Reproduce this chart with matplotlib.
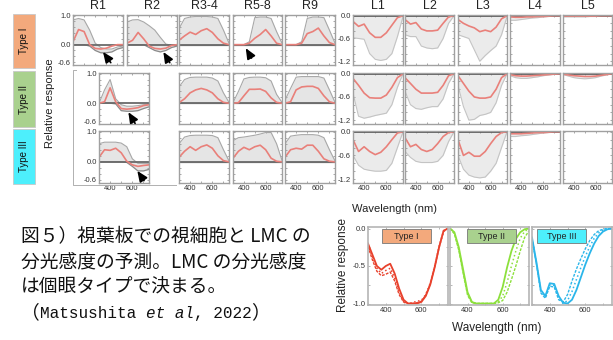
import numpy as np
import matplotlib
matplotlib.use("Agg")
import matplotlib.pyplot as plt
from matplotlib.patches import Rectangle
from matplotlib.lines import Line2D
from matplotlib.ticker import MultipleLocator

plt.rcParams['font.family'] = ['Liberation Sans', 'DejaVu Sans']
plt.rcParams['axes.unicode_minus'] = False

# ---- data: wavelength grid of the small panels ----
WL = [300, 350, 400, 450, 500, 550, 600, 650, 700, 750]
ZERO = [0.0] * len(WL)

R_COLS = ["R1", "R2", "R3-4", "R5-8", "R9"]
L_COLS = ["L1", "L2", "L3", "L4", "L5"]
TYPES = ["Type I", "Type II", "Type III"]
TYPE_COLORS = ["#F3A97C", "#A9D18E", "#4DEFFC"]

# photoreceptors (red = mean, hi/lo = envelope of grey family)
R1_I_RED = [0.10, 0.52, 0.45, 0.00, -0.13, -0.15, -0.12, -0.05, 0.00, 0.00]
R1_I_HI = [0.85, 0.90, 0.85, 0.50, 0.05, -0.10, -0.15, -0.15, -0.08, -0.05]
R1_I_LO = [0.00, 0.00, 0.00, -0.05, -0.20, -0.28, -0.28, -0.25, -0.15, -0.10]
R2_I_RED = [0.05, 0.15, 0.42, 0.20, -0.05, -0.13, -0.15, -0.12, -0.03, 0.00]
R2_I_HI = [0.78, 0.85, 0.86, 0.78, 0.65, 0.50, 0.25, 0.02, -0.02, 0.00]
R2_I_LO = [0.00, 0.00, 0.00, 0.00, -0.10, -0.20, -0.25, -0.20, -0.10, -0.05]
R34_I_RED = [0.15, 0.30, 0.43, 0.35, 0.48, 0.55, 0.42, 0.20, 0.05, 0.00]
R34_I_HI = [0.55, 0.90, 0.95, 0.97, 0.97, 0.97, 0.95, 0.90, 0.50, 0.05]
R58_I_RED = [0.00, 0.00, 0.00, 0.05, 0.22, 0.35, 0.52, 0.30, 0.05, 0.00]
R58_I_HI = [0.00, 0.00, 0.00, 0.10, 0.93, 0.95, 0.95, 0.90, 0.45, 0.05]
R9_I_RED = [0.00, 0.00, 0.00, 0.05, 0.38, 0.45, 0.57, 0.30, 0.07, 0.00]
R9_I_HI = [0.00, 0.00, 0.00, 0.10, 0.90, 0.95, 0.95, 0.93, 0.50, 0.05]

R1_II_RED = [0.00, 0.05, 0.52, 0.05, -0.18, -0.20, -0.18, -0.15, -0.08, -0.05]
R1_II_HI = [0.00, 0.45, 0.80, 0.15, -0.05, -0.10, -0.10, -0.08, -0.05, -0.03]
R1_II_LO = [0.00, 0.00, 0.00, -0.02, -0.25, -0.27, -0.27, -0.25, -0.18, -0.12]
R34_II_RED = [0.02, 0.15, 0.35, 0.45, 0.50, 0.45, 0.35, 0.15, 0.03, 0.00]
R34_II_HI = [0.55, 0.80, 0.87, 0.88, 0.88, 0.88, 0.85, 0.75, 0.35, 0.03]
R58_II_RED = [0.00, 0.02, 0.25, 0.47, 0.47, 0.48, 0.40, 0.18, 0.03, 0.00]
R58_II_HI = [0.02, 0.40, 0.82, 0.87, 0.88, 0.88, 0.86, 0.75, 0.30, 0.03]
R9_II_RED = [0.00, 0.05, 0.45, 0.55, 0.57, 0.57, 0.50, 0.25, 0.05, 0.00]
R9_II_HI = [0.10, 0.50, 0.88, 0.90, 0.90, 0.90, 0.90, 0.85, 0.45, 0.03]

R1_III_RED = [0.15, 0.40, 0.38, 0.45, 0.30, 0.02, -0.10, -0.15, -0.12, -0.10]
R1_III_HI = [0.60, 0.65, 0.65, 0.65, 0.62, 0.50, 0.10, -0.05, -0.05, -0.05]
R1_III_LO = [0.00, 0.00, 0.00, 0.00, 0.00, -0.02, -0.15, -0.30, -0.30, -0.25]
R34_III_RED = [0.15, 0.35, 0.50, 0.38, 0.50, 0.56, 0.45, 0.20, 0.04, 0.00]
R34_III_HI = [0.60, 0.82, 0.87, 0.88, 0.88, 0.88, 0.87, 0.80, 0.40, 0.03]
R58_III_RED = [0.12, 0.35, 0.48, 0.40, 0.50, 0.55, 0.40, 0.12, 0.02, 0.00]
R58_III_HI = [0.70, 0.80, 0.82, 0.85, 0.88, 0.92, 0.97, 0.97, 0.60, 0.05]
R9_III_RED = [0.15, 0.40, 0.45, 0.42, 0.55, 0.55, 0.35, 0.10, 0.02, 0.00]
R9_III_HI = [0.60, 0.85, 0.88, 0.90, 0.90, 0.90, 0.88, 0.80, 0.40, 0.03]

# LMCs (red = mean, lo = lower envelope, upper envelope is 0)
L1_I_RED = [-0.15, -0.28, -0.22, -0.45, -0.57, -0.57, -0.45, -0.25, -0.05, 0.00]
L1_I_LO = [-0.58, -0.60, -0.62, -1.00, -1.15, -1.18, -1.15, -1.00, -0.55, -0.02]
L2_I_RED = [-0.10, -0.22, -0.18, -0.35, -0.40, -0.40, -0.38, -0.20, -0.03, 0.00]
L2_I_LO = [-0.50, -0.55, -0.55, -0.80, -0.85, -0.87, -0.85, -0.60, -0.20, 0.00]
L3_I_RED = [-0.10, -0.20, -0.27, -0.32, -0.42, -0.38, -0.42, -0.30, -0.08, 0.00]
L3_I_LO = [-0.50, -0.55, -0.60, -0.90, -1.20, -1.05, -0.92, -0.80, -0.50, -0.02]
L4_I_RED = [-0.03, -0.04, -0.04, -0.03, -0.03, -0.02, -0.02, -0.01, 0.00, 0.00]
L4_I_LO = [-0.12, -0.12, -0.10, -0.08, -0.06, -0.05, -0.03, -0.02, -0.01, 0.00]
L5_I_RED = [-0.01, -0.01, -0.01, -0.01, -0.01, -0.01, -0.01, 0.00, 0.00, 0.00]
L5_I_LO = [-0.03, -0.03, -0.03, -0.03, -0.03, -0.02, -0.02, -0.01, -0.01, 0.00]

L1_II_RED = [-0.12, -0.30, -0.50, -0.62, -0.63, -0.63, -0.55, -0.35, -0.10, 0.00]
L1_II_LO = [-0.50, -1.10, -1.15, -1.12, -1.08, -1.05, -1.02, -0.80, -0.35, 0.00]
L2_II_RED = [-0.10, -0.25, -0.40, -0.50, -0.50, -0.50, -0.48, -0.30, -0.05, 0.00]
L2_II_LO = [-0.45, -0.80, -0.90, -0.92, -0.88, -0.85, -0.85, -0.65, -0.25, 0.00]
L3_II_RED = [-0.05, -0.25, -0.45, -0.60, -0.63, -0.63, -0.60, -0.40, -0.10, 0.00]
L3_II_LO = [-0.30, -0.85, -1.20, -1.18, -1.08, -1.05, -1.00, -0.75, -0.30, 0.00]
L4_II_RED = [-0.02, -0.05, -0.06, -0.06, -0.05, -0.04, -0.03, -0.02, -0.01, 0.00]
L4_II_LO = [-0.05, -0.10, -0.12, -0.12, -0.10, -0.08, -0.05, -0.03, -0.01, 0.00]
L5_II_RED = [-0.01, -0.03, -0.05, -0.06, -0.07, -0.07, -0.06, -0.04, -0.02, 0.00]
L5_II_LO = [-0.02, -0.06, -0.10, -0.12, -0.13, -0.12, -0.10, -0.06, -0.03, 0.00]

L1_III_RED = [-0.20, -0.50, -0.38, -0.50, -0.58, -0.52, -0.38, -0.20, -0.03, 0.00]
L1_III_LO = [-0.60, -0.85, -0.95, -0.98, -1.00, -1.00, -0.98, -0.80, -0.40, 0.00]
L2_III_RED = [-0.15, -0.38, -0.32, -0.45, -0.50, -0.45, -0.30, -0.12, -0.02, 0.00]
L2_III_LO = [-0.50, -0.65, -0.75, -0.78, -0.78, -0.78, -0.75, -0.60, -0.25, 0.00]
L3_III_RED = [-0.20, -0.60, -0.52, -0.62, -0.62, -0.50, -0.30, -0.12, -0.02, 0.00]
L3_III_LO = [-0.60, -0.95, -1.10, -1.15, -1.17, -1.15, -1.00, -0.80, -0.40, 0.00]
L4_III_RED = [-0.05, -0.05, -0.05, -0.04, -0.03, -0.02, -0.02, -0.01, 0.00, 0.00]
L4_III_LO = [-0.12, -0.12, -0.10, -0.09, -0.07, -0.05, -0.03, -0.02, -0.01, 0.00]

# bottom panels: LMC sensitivity per eye type
WL2 = [300, 325, 350, 375, 400, 425, 450, 475, 500, 525,
       550, 575, 600, 625, 650, 675, 700, 725, 750]
T1_A = [-0.20, -0.35, -0.50, -0.55, -0.50, -0.47, -0.60, -0.80, -0.95, -1.00,
        -1.00, -1.00, -0.98, -0.90, -0.75, -0.52, -0.25, -0.03, 0.00]
T1_B = [-0.22, -0.38, -0.53, -0.60, -0.56, -0.53, -0.66, -0.85, -0.97, -1.00,
        -0.99, -0.97, -0.96, -0.88, -0.73, -0.50, -0.24, -0.03, 0.00]
T1_C = [-0.24, -0.42, -0.57, -0.63, -0.61, -0.58, -0.70, -0.88, -0.98, -1.00,
        -1.00, -0.99, -0.97, -0.89, -0.74, -0.51, -0.25, -0.04, 0.00]
T2_A = [0.00, -0.05, -0.25, -0.55, -0.85, -0.98, -1.00, -1.00, -1.00, -1.00,
        -1.00, -0.95, -0.78, -0.52, -0.30, -0.14, -0.05, -0.01, 0.00]
T2_B = [0.00, -0.06, -0.27, -0.58, -0.87, -0.99, -1.00, -1.00, -1.00, -1.00,
        -1.00, -0.98, -0.90, -0.72, -0.50, -0.30, -0.13, -0.04, 0.00]
T2_C = [0.00, -0.07, -0.29, -0.60, -0.89, -0.99, -1.00, -1.00, -1.00, -1.00,
        -1.00, -0.99, -0.96, -0.85, -0.68, -0.50, -0.30, -0.12, -0.03]
T3_A = [-0.12, -0.45, -0.82, -0.90, -0.73, -0.74, -0.90, -0.99, -1.00, -0.95,
        -0.82, -0.65, -0.48, -0.33, -0.20, -0.10, -0.04, -0.01, 0.00]
T3_B = [-0.13, -0.47, -0.84, -0.91, -0.75, -0.76, -0.92, -1.00, -0.96, -0.84,
        -0.68, -0.52, -0.37, -0.24, -0.13, -0.06, -0.02, 0.00, 0.00]
T3_C = [-0.14, -0.48, -0.86, -0.93, -0.77, -0.78, -0.95, -0.98, -0.88, -0.70,
        -0.54, -0.40, -0.27, -0.16, -0.08, -0.03, -0.01, 0.00, 0.00]

CAPTION = ["図５）視葉板での視細胞と LMC の",
           "分光感度の予測。LMC の分光感度",
           "は個眼タイプで決まる。"]
# last caption line: (text, font, style)
CITATION = [("（", "Noto Sans CJK JP", "normal"),
            ("Matsushita ", "Liberation Mono", "normal"),
            ("et al", "Liberation Mono", "italic"),
            (", 2022", "Liberation Mono", "normal"),
            ("）", "Noto Sans CJK JP", "normal")]

# ---- layout (pixels of a 613x340 canvas) ----
W, H = 613, 340
fig = plt.figure(figsize=(W / 100, H / 100), dpi=100)


def px_axes(x0, y0, x1, y1):
    return fig.add_axes([x0 / W, 1 - y1 / H, (x1 - x0) / W, (y1 - y0) / H])


ROWS = [(15, 65), (73, 124), (131, 183)]
R_X = [(73, 123), (127, 177), (179, 229), (233, 282), (285, 335)]
R1_LOW_X = (99, 149)
L_X = [(353, 403), (405, 454), (458, 507), (510, 560), (563, 612)]
GRID_RED = "#e9807a"


def style(ax, ylim, yticks, ylabels, show_y, show_x):
    ax.set_xlim(300, 750)
    ax.set_ylim(*ylim)
    ax.set_xticks([400, 600])
    ax.xaxis.set_minor_locator(MultipleLocator(100))
    ax.set_yticks(yticks)
    ax.set_yticklabels(ylabels)
    ax.yaxis.set_minor_locator(MultipleLocator(0.2))
    ax.tick_params(which="both", direction="in", length=1.5, width=0.6,
                   color="#999999", top=True, right=True,
                   labelsize=5.5, labelcolor="#333333", pad=1.5,
                   labelleft=show_y, labelbottom=show_x)
    for s in ax.spines.values():
        s.set_color("#a0a0a0")
        s.set_linewidth(1.0)


def draw_r(ax, red, hi, lo):
    ax.fill_between(WL, lo, hi, color="#e5e5e5", lw=0)
    ax.plot(WL, hi, color="#a8a8a8", lw=0.8)
    ax.plot(WL, lo, color="#8a8a8a", lw=0.9)
    ax.axhline(0, color="#6a6a6a", lw=1.3)
    ax.plot(WL, red, color=GRID_RED, lw=1.2)


def draw_l(ax, red, lo):
    ax.fill_between(WL, lo, ZERO, color="#ebebeb", lw=0)
    ax.plot(WL, lo, color="#c4c4c4", lw=0.8)
    ax.plot(WL, ZERO, color="#555555", lw=1.3)
    ax.plot(WL, red, color=GRID_RED, lw=1.2)


R_PANELS = {
    (0, 0): (R1_I_RED, R1_I_HI, R1_I_LO),
    (0, 1): (R2_I_RED, R2_I_HI, R2_I_LO),
    (0, 2): (R34_I_RED, R34_I_HI, ZERO),
    (0, 3): (R58_I_RED, R58_I_HI, ZERO),
    (0, 4): (R9_I_RED, R9_I_HI, ZERO),
    (1, 0): (R1_II_RED, R1_II_HI, R1_II_LO),
    (1, 2): (R34_II_RED, R34_II_HI, ZERO),
    (1, 3): (R58_II_RED, R58_II_HI, ZERO),
    (1, 4): (R9_II_RED, R9_II_HI, ZERO),
    (2, 0): (R1_III_RED, R1_III_HI, R1_III_LO),
    (2, 2): (R34_III_RED, R34_III_HI, ZERO),
    (2, 3): (R58_III_RED, R58_III_HI, ZERO),
    (2, 4): (R9_III_RED, R9_III_HI, ZERO),
}
L_PANELS = {
    (0, 0): (L1_I_RED, L1_I_LO), (0, 1): (L2_I_RED, L2_I_LO),
    (0, 2): (L3_I_RED, L3_I_LO), (0, 3): (L4_I_RED, L4_I_LO),
    (0, 4): (L5_I_RED, L5_I_LO),
    (1, 0): (L1_II_RED, L1_II_LO), (1, 1): (L2_II_RED, L2_II_LO),
    (1, 2): (L3_II_RED, L3_II_LO), (1, 3): (L4_II_RED, L4_II_LO),
    (1, 4): (L5_II_RED, L5_II_LO),
    (2, 0): (L1_III_RED, L1_III_LO), (2, 1): (L2_III_RED, L2_III_LO),
    (2, 2): (L3_III_RED, L3_III_LO), (2, 3): (L4_III_RED, L4_III_LO),
    (2, 4): None,
}
# black arrowheads: (row, col, tip, tail) in data units
ARROWS = [(0, 0, (570, -0.25), (640, -0.62)),
          (0, 1, (627, -0.25), (685, -0.62)),
          (0, 3, (417, -0.12), (470, -0.46)),
          (1, 0, (564, -0.30), (625, -0.68)),
          (2, 0, (645, -0.30), (705, -0.62))]

r_axes = {}
for (row, col), (red, hi, lo) in R_PANELS.items():
    x0, x1 = R_X[col]
    if col == 0 and row > 0:
        x0, x1 = R1_LOW_X
    y0, y1 = ROWS[row]
    ax = px_axes(x0, y0, x1, y1)
    draw_r(ax, red, hi, lo)
    style(ax, (-0.7, 1.02), [1.0, 0.0, -0.6], ["1.0", "0.0", "-0.6"],
          show_y=(col == 0), show_x=(row == 2))
    r_axes[(row, col)] = ax

for row, col, tip, tail in ARROWS:
    r_axes[(row, col)].annotate(
        "", xy=tip, xytext=tail, annotation_clip=False,
        arrowprops=dict(arrowstyle="-|>,head_length=0.7,head_width=0.3",
                        mutation_scale=9, shrinkA=0, shrinkB=0,
                        fc="black", ec="black", lw=1.2))

for (row, col), vals in L_PANELS.items():
    x0, x1 = L_X[col]
    y0, y1 = ROWS[row]
    ax = px_axes(x0, y0, x1, y1)
    if vals is not None:
        draw_l(ax, *vals)
    style(ax, (-1.3, 0.02), [0.0, -0.6, -1.2], ["0.0", "-0.6", "-1.2"],
          show_y=(col == 0), show_x=(row == 2))

# column titles
for name, (x0, x1) in zip(R_COLS + L_COLS, R_X + L_X):
    fig.text((x0 + x1) / 2 / W, 1 - 6 / H, name, ha="center", va="center",
             fontsize=9, color="#222222")

# eye type labels on the left
for name, color, (y0, y1) in zip(TYPES, TYPE_COLORS,
                                 [(14, 68), (71, 127), (129, 184)]):
    fig.add_artist(Rectangle((13 / W, 1 - y1 / H), 22 / W, (y1 - y0) / H,
                             transform=fig.transFigure, fc=color,
                             ec="#c8c8c8", lw=0.6))
    fig.text(24 / W, 1 - (y0 + y1) / 2 / H, name, rotation=90, ha="center",
             va="center", fontsize=7, color="#111111")

fig.text(50 / W, 1 - 103 / H, "Relative response", rotation=90, ha="center",
         va="center", fontsize=8, color="#222222")
fig.text(395 / W, 1 - 209 / H, "Wavelength (nm)", ha="center", va="center",
         fontsize=8, color="#222222")

# thin frame around lower R1 panels
fig.add_artist(Line2D(np.array([76, 73, 73, 176]) / W,
                      1 - np.array([70, 70, 185, 185]) / H,
                      transform=fig.transFigure, color="#b0b0b0", lw=0.7))

# ---- bottom panels ----
BOT_X = [(368, 448), (450, 529), (532, 612)]
BOT_SERIES = [(T1_A, T1_B, T1_C), (T2_A, T2_B, T2_C), (T3_A, T3_B, T3_C)]
BOT_COLORS = ["#e8412c", "#8ce03c", "#2bb6ea"]
BOT_LABEL_X = [(382, 431), (467, 516), (537, 586)]
for i, ((x0, x1), series, color) in enumerate(zip(BOT_X, BOT_SERIES, BOT_COLORS)):
    ax = px_axes(x0, 227, x1, 305)
    a, b, c = series
    ax.plot(WL2, c, color=color, lw=1.0, ls=(0, (2, 1)))
    ax.plot(WL2, b, color=color, lw=1.1, ls=":")
    ax.plot(WL2, a, color=color, lw=1.3)
    ax.set_xlim(300, 750)
    ax.set_ylim(-1.02, 0.02)
    ax.set_xticks([400, 600])
    ax.xaxis.set_minor_locator(MultipleLocator(100))
    ax.set_yticks([0.0, -0.5, -1.0])
    ax.set_yticklabels(["0.0", "-0.5", "-1.0"])
    ax.yaxis.set_minor_locator(MultipleLocator(0.25))
    ax.tick_params(which="both", direction="in", length=1.5, width=0.6,
                   color="#aaaaaa", top=True, right=True, labelsize=5.5,
                   labelcolor="#333333", pad=1.5, labelleft=(i == 0))
    for s in ax.spines.values():
        s.set_color("#b5b5b5")
        s.set_linewidth(1.2)
    lx0, lx1 = BOT_LABEL_X[i]
    fx0, fx1 = (lx0 - x0) / (x1 - x0), (lx1 - x0) / (x1 - x0)
    fy0, fy1 = (305 - 243) / 78, (305 - 229) / 78
    ax.add_patch(Rectangle((fx0, fy0), fx1 - fx0, fy1 - fy0,
                           transform=ax.transAxes, fc=TYPE_COLORS[i],
                           ec="#777777", lw=0.6, zorder=5))
    ax.text((fx0 + fx1) / 2, (fy0 + fy1) / 2, TYPES[i], transform=ax.transAxes,
            ha="center", va="center", fontsize=6.5, color="#222222", zorder=6)

fig.text(343 / W, 1 - 265 / H, "Relative response", rotation=90, ha="center",
         va="center", fontsize=8.5, color="#222222")
fig.text(497 / W, 1 - 328 / H, "Wavelength (nm)", ha="center", va="center",
         fontsize=8.5, color="#222222")

# ---- caption ----
for k, line in enumerate(CAPTION):
    fig.text(21 / W, 1 - (237 + 25 * k) / H, line, ha="left", va="center",
             fontsize=13.5, family=["Noto Sans CJK JP"], color="#111111")

renderer = fig.canvas.get_renderer()
base4 = 1 - 318 / H
x = 21
for part, fam, st in CITATION:
    size = 13.5 if fam.startswith("Noto") else 11.5
    t = fig.text(x / W, base4, part, ha="left", va="baseline", fontsize=size,
                 family=[fam, "DejaVu Sans"], style=st, color="#111111")
    x = t.get_window_extent(renderer).x1

fig.savefig("out.png", dpi=100)
